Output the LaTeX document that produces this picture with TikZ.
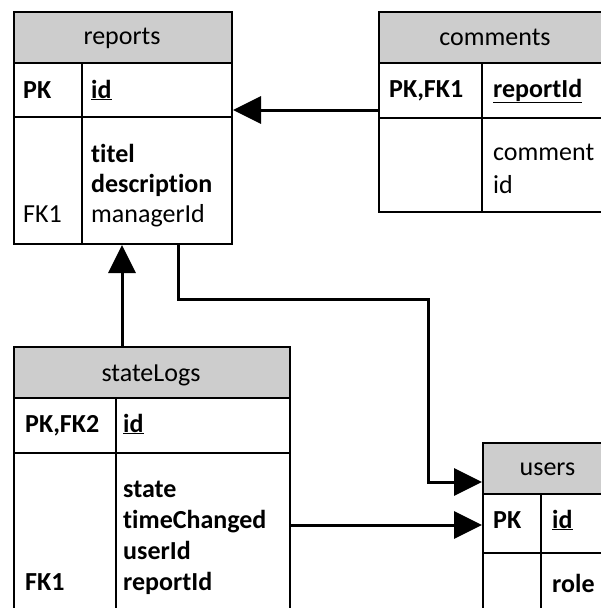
\documentclass[tikz,border=0pt]{standalone}
\usepackage{fontspec}
\setmainfont{Carlito}[Ligatures=NoCommon]
\usetikzlibrary{arrows.meta}
\definecolor{headfill}{RGB}{205,205,205}
\begin{document}
\begin{tikzpicture}[x=1pt,y=-1pt,
  cell/.style={draw=black,line width=2pt,inner sep=0pt,anchor=north west},
  headcell/.style={cell,fill=headfill},
  rule/.style={draw=black,line width=2pt},
  txt/.style={anchor=base west,inner sep=0pt,font=\fontsize{26}{30}\selectfont},
  ttl/.style={anchor=base,inner sep=0pt,font=\fontsize{26}{30}\selectfont},
  link/.style={line width=3pt,-{Triangle[length=28pt,width=27pt]}}]
\useasboundingbox (0,0) rectangle (601,608);
\clip (0,0) rectangle (601,608);

% ---------- reports ----------
\node[headcell,minimum width=218pt,minimum height=51pt] (reports-head) at (13,11) {};
\node[cell,minimum width=218pt,minimum height=54pt] (reports-pk) at (13,62) {};
\node[cell,minimum width=218pt,minimum height=127pt] (reports-body) at (13,116) {};
\draw[rule] (reports-pk.north west -| 82,0) -- (reports-body.south west -| 82,0);
\node[ttl] (reports-title) at (122,44) {reports};
\node[txt] (reports-pkkey) at (23,98) {\textbf{PK}};
\node[txt] (reports-id) at (91,98) {\textbf{\underline{id}}};
\node[txt] (reports-a1) at (91,162) {\textbf{titel}};
\node[txt] (reports-a2) at (91,192) {\textbf{description}};
\node[txt] (reports-a3) at (91,222) {managerId};
\node[txt] (reports-fk) at (23,222) {FK1};

% ---------- comments ----------
\node[headcell,minimum width=234pt,minimum height=51pt] (comments-head) at (378,11) {};
\node[cell,minimum width=234pt,minimum height=55pt] (comments-pk) at (378,62) {};
\node[cell,minimum width=234pt,minimum height=94pt] (comments-body) at (378,117) {};
\draw[rule] (comments-pk.north west -| 482,0) -- (comments-body.south west -| 482,0);
\node[ttl] (comments-title) at (495,45) {comments};
\node[txt] (comments-pkkey) at (389,97) {\textbf{PK,FK1}};
\node[txt] (comments-id) at (493,97) {\textbf{\underline{reportId}}};
\node[txt] (comments-a1) at (493,160) {comment};
\node[txt] (comments-a2) at (493,193) {id};

% ---------- stateLogs ----------
\node[headcell,minimum width=276pt,minimum height=51pt] (stateLogs-head) at (13,346) {};
\node[cell,minimum width=276pt,minimum height=55pt] (stateLogs-pk) at (13,397) {};
\node[cell,minimum width=276pt,minimum height=180pt] (stateLogs-body) at (13,452) {};
\draw[rule] (stateLogs-pk.north west -| 116,0) -- (stateLogs-body.south west -| 116,0);
\node[ttl] (stateLogs-title) at (151,381) {stateLogs};
\node[txt] (stateLogs-pkkey) at (25,432) {\textbf{PK,FK2}};
\node[txt] (stateLogs-id) at (123,432) {\textbf{\underline{id}}};
\node[txt] (stateLogs-a1) at (123,497) {\textbf{state}};
\node[txt] (stateLogs-a2) at (123,528) {\textbf{timeChanged}};
\node[txt] (stateLogs-a3) at (123,559) {\textbf{userId}};
\node[txt] (stateLogs-a4) at (123,590) {\textbf{reportId}};
\node[txt] (stateLogs-fk) at (25,590) {\textbf{FK1}};

% ---------- users ----------
\node[headcell,minimum width=131pt,minimum height=51pt] (users-head) at (482,442) {};
\node[cell,minimum width=131pt,minimum height=59pt] (users-pk) at (482,493) {};
\node[cell,minimum width=131pt,minimum height=80pt] (users-body) at (482,552) {};
\draw[rule] (users-pk.north west -| 541,0) -- (users-body.south west -| 541,0);
\node[ttl] (users-title) at (547.5,475) {users};
\node[txt] (users-pkkey) at (493,528) {\textbf{PK}};
\node[txt] (users-id) at (552,528) {\textbf{\underline{id}}};
\node[txt] (users-a1) at (552,592) {\textbf{role}};

% ---------- relations ----------
\draw[link] (comments-pk.west |- 0,110) -- (reports-pk.east |- 0,110);
\draw[link] (stateLogs-head.north -| 122,0) -- (reports-body.south -| 122,0);
\coordinate (reports-out) at (reports-body.south -| 178,0);
\coordinate (users-in) at (users-head.west |- 0,482);
\draw[link] (reports-out) -- (178,299) -| (428,482) -- (users-in);
\draw[link] (stateLogs-body.east |- 0,525) -- (users-pk.west |- 0,525);
\end{tikzpicture}
\end{document}
